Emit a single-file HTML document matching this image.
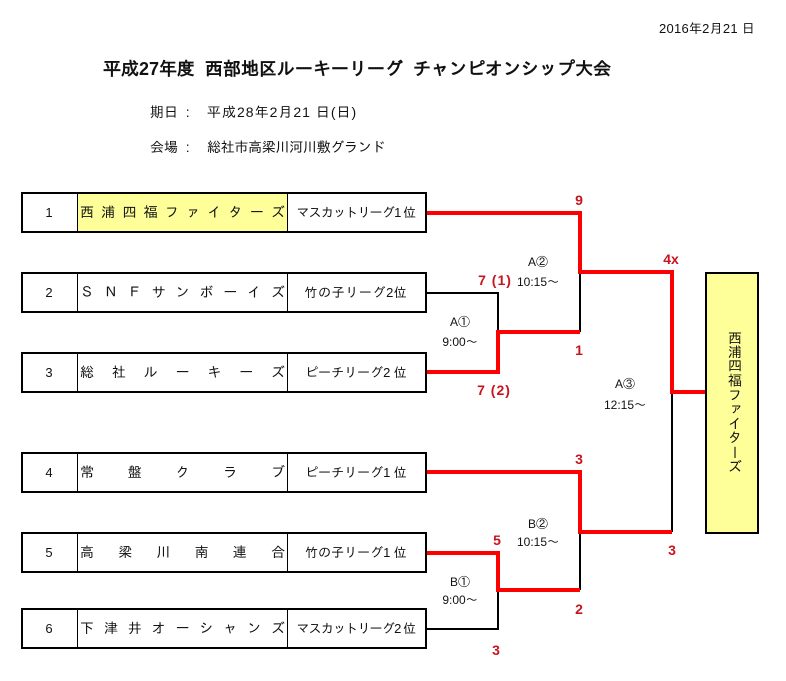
<!DOCTYPE html>
<html lang="ja"><head><meta charset="utf-8"><style>
html,body{margin:0;padding:0;background:#fff}
#p{position:relative;width:786px;height:681px;overflow:hidden;font-family:"Liberation Sans","IPAGothic","Noto Sans CJK JP",sans-serif;color:#111;font-size:13px}
.t{position:absolute;white-space:pre;line-height:16px}
.row{position:absolute;left:21px;width:402px;height:37px;border:2px solid #000;background:#fff}
.row div{position:absolute;top:0;height:37px;line-height:37px;white-space:pre}
.n{left:0;width:52px;text-align:center}
.nm{left:54px;width:209px;border-left:1px solid #000;border-right:1px solid #000;background:#fff}
.nm span{position:absolute;left:2px;width:205px;text-align:justify;text-align-last:justify;font-family:"IPAGothic","Noto Sans CJK JP",sans-serif;font-size:14px;line-height:37px}
.lg{left:264px;width:138px;text-align:center}
.r{position:absolute;color:#c8141e;font-weight:bold;font-size:14px;line-height:16px;transform:translateX(-50%);white-space:pre}
.c{position:absolute;font-size:12px;line-height:16px;transform:translateX(-50%);white-space:pre;text-align:center}
svg{position:absolute;left:0;top:0}
#w{position:absolute;left:705px;top:272px;width:50px;height:258px;border:2px solid #000;background:#ffff99}
#wt{position:absolute;left:3px;top:56px;font-size:14px;line-height:50px;letter-spacing:.3px;writing-mode:vertical-rl;white-space:pre;width:50px;font-family:"IPAGothic","Noto Sans CJK JP",sans-serif}
</style></head><body><div id="p">
<div class="t" style="left:659px;top:21px;font-size:13px;letter-spacing:.25px">2016年2月21 日</div>
<div class="t" style="left:103px;top:60px;font-size:18px;font-weight:bold;line-height:18px">平成27年度  西部地区ルーキーリーグ  チャンピオンシップ大会</div>
<div class="t" style="left:150px;top:104px;font-size:14px">期日  :  <span style="position:absolute;left:57px;top:0;letter-spacing:1px">平成28年2月21 日(日)</span></div>
<div class="t" style="left:150px;top:139px;font-size:14px">会場  :  <span style="position:absolute;left:57px;top:0;letter-spacing:-.3px">総社市高梁川河川敷グランド</span></div>

<svg width="786" height="681" fill="none">
<g stroke="#000" stroke-width="2">
<path d="M427 293H498V332"/><path d="M580 272V332"/><path d="M672 392V532"/><path d="M580 532V590"/><path d="M498 590V629H427"/>
</g>
<g stroke="#f00" stroke-width="4" stroke-linejoin="miter">
<path d="M427 213H580V272H672V392H706"/>
<path d="M427 372H498V332H580"/>
<path d="M427 472H580V532H672"/>
<path d="M427 553H498V590H580"/>
</g>
</svg>

<div class="row" style="top:192px"><div class="n">1</div><div class="nm" style="background:#ffff99"><span>西浦四福ファイターズ</span></div><div class="lg" style="letter-spacing:-.8px">マスカットリーグ1 位</div></div>
<div class="row" style="top:272px"><div class="n">2</div><div class="nm"><span>ＳＮＦサンボーイズ</span></div><div class="lg" style="letter-spacing:.6px">竹の子リーグ2位</div></div>
<div class="row" style="top:352px"><div class="n">3</div><div class="nm"><span>総社ルーキーズ</span></div><div class="lg">ピーチリーグ2 位</div></div>
<div class="row" style="top:452px"><div class="n">4</div><div class="nm"><span>常盤クラブ</span></div><div class="lg">ピーチリーグ1 位</div></div>
<div class="row" style="top:532px"><div class="n">5</div><div class="nm"><span>高梁川南連合</span></div><div class="lg">竹の子リーグ1 位</div></div>
<div class="row" style="top:608px"><div class="n">6</div><div class="nm"><span>下津井オーシャンズ</span></div><div class="lg" style="letter-spacing:-.8px">マスカットリーグ2 位</div></div>

<div id="w"><div id="wt">西浦四福ファイターズ</div></div>

<div class="r" style="left:579px;top:192px">9</div>
<div class="r" style="left:671px;top:251px">4x</div>
<div class="r" style="left:495px;top:272px;letter-spacing:1px">7 (1)</div>
<div class="r" style="left:494px;top:382px;letter-spacing:1px">7 (2)</div>
<div class="r" style="left:579px;top:342px">1</div>
<div class="r" style="left:579px;top:451px">3</div>
<div class="r" style="left:497px;top:532px">5</div>
<div class="r" style="left:672px;top:542px">3</div>
<div class="r" style="left:579px;top:601px">2</div>
<div class="r" style="left:496px;top:642px">3</div>

<div class="c" style="left:538px;top:254px">A②</div>
<div class="c" style="left:538px;top:274px">10:15～</div>
<div class="c" style="left:460px;top:314px">A①</div>
<div class="c" style="left:460px;top:334px">9:00～</div>
<div class="c" style="left:625px;top:376px">A③</div>
<div class="c" style="left:625px;top:397px">12:15～</div>
<div class="c" style="left:538px;top:516px">B②</div>
<div class="c" style="left:538px;top:534px">10:15～</div>
<div class="c" style="left:460px;top:574px">B①</div>
<div class="c" style="left:460px;top:592px">9:00～</div>
</div></body></html>
